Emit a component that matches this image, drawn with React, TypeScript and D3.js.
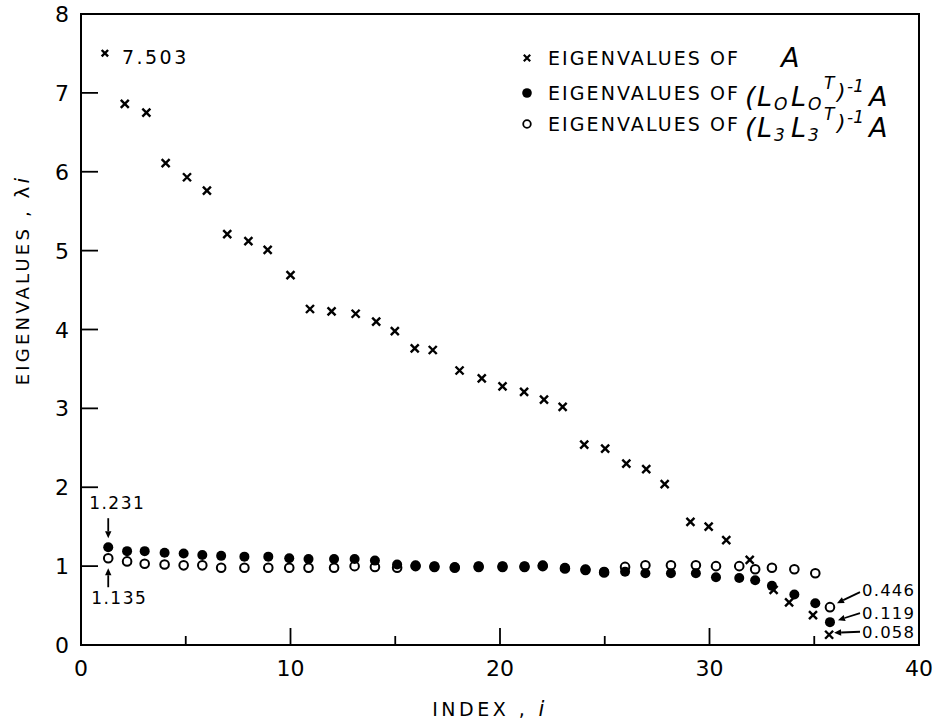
import React from "react";
import * as d3 from "d3";

// ---- data ----
const xCross = [1.14, 2.09, 3.12, 4.04, 5.06, 6.01, 6.98, 7.99, 8.91, 10.0, 10.93, 11.96, 13.11, 14.09, 14.98, 15.93, 16.79, 18.07, 19.13, 20.12, 21.15, 22.1, 22.99, 24.02, 25.02, 26.03, 26.98, 27.86, 29.09, 29.96, 30.8, 31.92, 33.06, 33.8, 34.94, 35.71];
const vCross = [7.503, 6.86, 6.75, 6.11, 5.93, 5.76, 5.21, 5.12, 5.01, 4.69, 4.26, 4.23, 4.2, 4.1, 3.98, 3.76, 3.74, 3.48, 3.38, 3.28, 3.21, 3.11, 3.02, 2.54, 2.49, 2.3, 2.23, 2.04, 1.56, 1.5, 1.33, 1.08, 0.7, 0.54, 0.38, 0.13];
const xCircle = [1.3, 2.2, 3.04, 3.99, 4.9, 5.79, 6.69, 7.8, 8.94, 9.94, 10.86, 12.08, 13.06, 14.03, 15.09, 15.97, 16.87, 17.84, 18.98, 20.12, 21.17, 22.04, 23.1, 24.08, 24.97, 25.97, 26.94, 28.16, 29.35, 30.31, 31.42, 32.18, 32.98, 34.05, 35.05, 35.75];
const vFilled = [1.24, 1.19, 1.19, 1.17, 1.16, 1.14, 1.13, 1.12, 1.12, 1.1, 1.09, 1.09, 1.09, 1.07, 1.02, 1.01, 1.0, 0.99, 1.0, 1.0, 1.0, 1.01, 0.98, 0.96, 0.93, 0.93, 0.91, 0.91, 0.91, 0.86, 0.85, 0.82, 0.75, 0.64, 0.53, 0.29];
const vOpen = [1.1, 1.06, 1.03, 1.02, 1.01, 1.01, 0.98, 0.98, 0.98, 0.98, 0.98, 0.98, 1.0, 0.99, 0.98, 1.0, 0.99, 0.98, 0.99, 0.99, 0.99, 1.0, 0.97, 0.95, 0.92, 0.99, 1.01, 1.01, 1.01, 1.0, 1.0, 0.96, 0.98, 0.96, 0.91, 0.48];

const xMajorTicks = [0, 10, 20, 30, 40];
const xMinorTicks = [5, 15, 25, 35];
const yTicks = [0, 1, 2, 3, 4, 5, 6, 7, 8];

const annotTopFirst = "7.503";
const annotFilledFirst = "1.231";
const annotOpenFirst = "1.135";
const annotLast = ["0.446", "0.119", "0.058"];

const W = 935;
const H = 722;
const FONT = "'DejaVu Sans', sans-serif";

const x = d3.scaleLinear().domain([0, 40]).range([81, 919]);
const y = d3.scaleLinear().domain([0, 8]).range([645, 14]);

const crossPath = (s: number) => `M${-s},${-s}L${s},${s}M${-s},${s}L${s},${-s}`;

function Arrow({ x1, y1, x2, y2 }: { x1: number; y1: number; x2: number; y2: number }) {
  const ang = Math.atan2(y2 - y1, x2 - x1);
  const L = 7;
  const w = 3.2;
  const bx = x2 - L * Math.cos(ang);
  const by = y2 - L * Math.sin(ang);
  const px = -Math.sin(ang) * w;
  const py = Math.cos(ang) * w;
  return (
    <g>
      <line x1={x1} y1={y1} x2={bx} y2={by} stroke="#000" strokeWidth={1.8} />
      <path d={`M${x2},${y2}L${bx + px},${by + py}L${bx - px},${by - py}Z`} fill="#000" />
    </g>
  );
}

function Formula({ yb, sub }: { yb: number; sub: string }) {
  const it = { fontFamily: FONT, fontStyle: "italic" as const, fill: "#000" };
  return (
    <g>
      <text x={745} y={yb} fontSize={27} {...it}>(</text>
      <text x={757} y={yb} fontSize={27} {...it}>L</text>
      <text x={774} y={yb + 4} fontSize={17} {...it}>{sub}</text>
      <text x={791} y={yb} fontSize={27} {...it}>L</text>
      <text x={808} y={yb + 4} fontSize={17} {...it}>{sub}</text>
      <text x={824} y={yb - 17} fontSize={17} {...it}>T</text>
      <text x={837} y={yb - 7} fontSize={22} {...it}>)</text>
      <text x={847} y={yb - 14} fontSize={17} {...it}>-1</text>
      <text x={869} y={yb} fontSize={27} {...it}>A</text>
    </g>
  );
}

export default function App() {
  const n = xCircle.length;
  const lastCross = { cx: x(xCross[n - 1]), cy: y(vCross[n - 1]) };
  const lastFilled = { cx: x(xCircle[n - 1]), cy: y(vFilled[n - 1]) };
  const lastOpen = { cx: x(xCircle[n - 1]), cy: y(vOpen[n - 1]) };
  const firstFilled = { cx: x(xCircle[0]), cy: y(vFilled[0]) };
  const firstOpen = { cx: x(xCircle[0]), cy: y(vOpen[0]) };
  const firstCross = { cx: x(xCross[0]), cy: y(vCross[0]) };

  const legendText = { fontFamily: FONT, fontSize: 19, fill: "#000", textLength: 190, lengthAdjust: "spacing" };

  return (
    <svg width={W} height={H} style={{ position: "absolute", left: 0, top: 0, background: "#fff" }}>
      <rect x={0} y={0} width={W} height={H} fill="#fff" />
      {/* frame */}
      <rect x={x(0)} y={y(8)} width={x(40) - x(0)} height={y(0) - y(8)} fill="none" stroke="#000" strokeWidth={2} />

      {/* y ticks */}
      {yTicks.map((t) => (
        <g key={"yt" + t}>
          {t > 0 && t < 8 && <line x1={x(0)} x2={x(0) + 17} y1={y(t)} y2={y(t)} stroke="#000" strokeWidth={1.8} />}
          <text x={62} y={y(t) + 8} textAnchor="middle" fontFamily={FONT} fontSize={22} fill="#000">
            {t}
          </text>
        </g>
      ))}
      {/* x ticks */}
      {xMajorTicks.map((t) => (
        <g key={"xt" + t}>
          {t > 0 && t < 40 && <line x1={x(t)} x2={x(t)} y1={y(0)} y2={y(0) - 17} stroke="#000" strokeWidth={1.8} />}
          <text x={x(t)} y={676} textAnchor="middle" fontFamily={FONT} fontSize={22} fill="#000">
            {t}
          </text>
        </g>
      ))}
      {xMinorTicks.map((t) => (
        <line key={"xm" + t} x1={x(t)} x2={x(t)} y1={y(0)} y2={y(0) - 9} stroke="#000" strokeWidth={1.8} />
      ))}

      {/* axis titles */}
      <text x={490} y={716} textAnchor="middle" fontFamily={FONT} fontSize={19} letterSpacing={3.5} fill="#000">
        INDEX ,<tspan fontStyle="italic" fontSize={21}> i</tspan>
      </text>
      <text
        transform={`translate(29,280) rotate(-90)`}
        textAnchor="middle"
        fontFamily={FONT}
        fontSize={18}
        letterSpacing={3.2}
        fill="#000"
      >
        EIGENVALUES ,<tspan fontSize={20}> λ</tspan>
        <tspan fontStyle="italic" fontSize={20}>i</tspan>
      </text>

      {/* crosses */}
      {xCross.map((xi, i) => (
        <path
          key={"c" + i}
          d={crossPath(i === 0 ? 3.2 : 4)}
          transform={`translate(${x(xi)},${y(vCross[i])})`}
          stroke="#000"
          strokeWidth={2.4}
          fill="none"
        />
      ))}
      {/* open circles */}
      {xCircle.map((xi, i) => (
        <circle key={"o" + i} cx={x(xi)} cy={y(vOpen[i])} r={4.3} fill="#fff" stroke="#000" strokeWidth={2} />
      ))}
      {/* filled circles */}
      {xCircle.map((xi, i) => (
        <circle key={"f" + i} cx={x(xi)} cy={y(vFilled[i])} r={5} fill="#000" />
      ))}

      {/* annotations */}
      <text x={firstCross.cx + 17} y={firstCross.cy + 11} fontFamily={FONT} fontSize={19} letterSpacing={2.5} fill="#000">
        {annotTopFirst}
      </text>
      <text x={firstFilled.cx + 9} y={firstFilled.cy - 38} textAnchor="middle" fontFamily={FONT} fontSize={17} letterSpacing={1.5} fill="#000">
        {annotFilledFirst}
      </text>
      <Arrow x1={firstFilled.cx} y1={firstFilled.cy - 29} x2={firstFilled.cx} y2={firstFilled.cy - 9} />
      <text x={firstOpen.cx + 11} y={firstOpen.cy + 46} textAnchor="middle" fontFamily={FONT} fontSize={17} letterSpacing={1.5} fill="#000">
        {annotOpenFirst}
      </text>
      <Arrow x1={firstOpen.cx} y1={firstOpen.cy + 29} x2={firstOpen.cx} y2={firstOpen.cy + 10} />

      <text x={862} y={lastOpen.cy - 11} fontFamily={FONT} fontSize={16.5} letterSpacing={1.2} fill="#000">
        {annotLast[0]}
      </text>
      <Arrow x1={860} y1={lastOpen.cy - 15} x2={lastOpen.cx + 7} y2={lastOpen.cy - 4} />
      <text x={862} y={lastFilled.cy - 3} fontFamily={FONT} fontSize={16.5} letterSpacing={1.2} fill="#000">
        {annotLast[1]}
      </text>
      <Arrow x1={860} y1={lastFilled.cy - 9} x2={lastFilled.cx + 8} y2={lastFilled.cy - 2} />
      <text x={862} y={lastCross.cy + 3} fontFamily={FONT} fontSize={16.5} letterSpacing={1.2} fill="#000">
        {annotLast[2]}
      </text>
      <Arrow x1={860} y1={lastCross.cy - 3} x2={lastCross.cx + 5} y2={lastCross.cy - 2} />

      {/* legend */}
      <g>
        <path d={crossPath(3.2)} transform="translate(527,58)" stroke="#000" strokeWidth={2.2} />
        <text x={548} y={65} {...legendText}>
          EIGENVALUES OF
        </text>
        <text x={781} y={67} fontFamily={FONT} fontStyle="italic" fontSize={27} fill="#000">
          A
        </text>
        <circle cx={527} cy={93} r={4.8} fill="#000" />
        <text x={548} y={100} {...legendText}>
          EIGENVALUES OF
        </text>
        <Formula yb={106} sub="O" />
        <circle cx={527} cy={124} r={3.8} fill="#fff" stroke="#000" strokeWidth={1.8} />
        <text x={548} y={131} {...legendText}>
          EIGENVALUES OF
        </text>
        <Formula yb={137} sub="3" />
      </g>
    </svg>
  );
}
